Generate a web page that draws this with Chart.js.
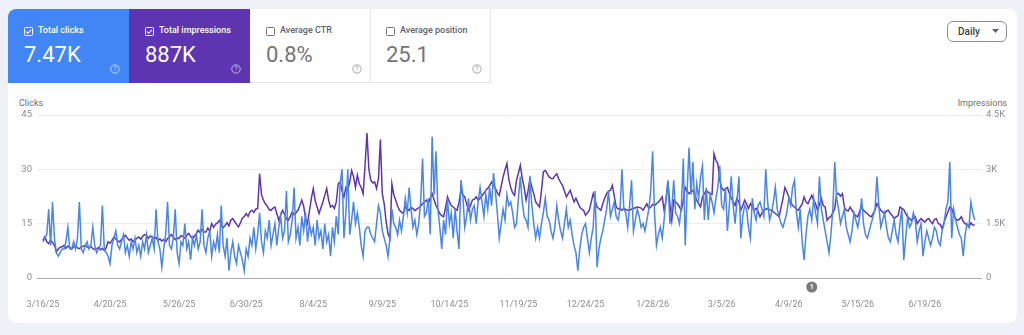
<!DOCTYPE html>
<html>
<head>
<meta charset="utf-8">
<script src="https://cdn.jsdelivr.net/npm/chart.js@4.4.1/dist/chart.umd.min.js"></script>
<style>
  html, body { margin: 0; padding: 0; }
  body { width: 1024px; height: 335px; background: #eef1f8; font-family: Roboto, Arial, sans-serif; position: relative; overflow: hidden; }
  .card { position: absolute; left: 8px; top: 9px; width: 1009px; height: 314px; background: #fff; border-radius: 8px; overflow: hidden; }
  .tile { position: absolute; top: 0; width: 121px; height: 74px; box-sizing: border-box; }
  .tile.off { border-right: 1px solid #e3e3e3; border-bottom: 1px solid #e3e3e3; }
  .tile svg { position: absolute; }
  .tile .cb { left: 16px; top: 18px; }
  .tile .help { left: 102px; top: 55px; }
  .tile .name { position: absolute; left: 30px; top: 16px; font-size: 9px; line-height: 11px; font-weight: 500; white-space: nowrap; }
  .tile .val { position: absolute; left: 16px; top: 33px; font-size: 22px; line-height: 26px; }
  .blue { background: #4285f4; color: #fff; }
  .purple { background: #5e35b1; color: #fff; }
  .off .name { color: #5f6368; }
  .off .val { color: #757575; }
  .daily { position: absolute; left: 939px; top: 12px; width: 60px; height: 21px; box-sizing: border-box; border: 1px solid #8a8d91; border-radius: 6px; }
  .daily span { position: absolute; left: 10px; top: 4px; font-size: 10px; line-height: 12px; font-weight: 500; color: #3c4043; }
  .daily svg { position: absolute; left: 44px; top: 7px; }
  .axis-title { position: absolute; top: 98px; font-size: 9px; line-height: 11px; color: #6b6f74; }
  #chart { position: absolute; left: 0; top: 95px; }
</style>
</head>
<body>
<div class="card">
  <div class="tile blue" style="left:0">
    <svg class="cb" width="9" height="9" viewBox="0 0 9 9"><rect x="0.5" y="0.5" width="8" height="8" rx="1" fill="none" stroke="#fff"/><path d="M2 4.6 L3.8 6.3 L7 2.8" fill="none" stroke="#fff" stroke-width="1.1"/></svg>
    <div class="name">Total clicks</div>
    <div class="val">7.47K</div>
    <svg class="help" width="10" height="10" viewBox="0 0 10 10"><circle cx="5" cy="5" r="4.2" fill="none" stroke="rgba(255,255,255,0.7)" stroke-width="0.9"/><text x="5" y="7.3" font-size="6.5" font-family="Roboto" text-anchor="middle" fill="rgba(255,255,255,0.7)">?</text></svg>
  </div>
  <div class="tile purple" style="left:121px">
    <svg class="cb" width="9" height="9" viewBox="0 0 9 9"><rect x="0.5" y="0.5" width="8" height="8" rx="1" fill="none" stroke="#fff"/><path d="M2 4.6 L3.8 6.3 L7 2.8" fill="none" stroke="#fff" stroke-width="1.1"/></svg>
    <div class="name">Total impressions</div>
    <div class="val">887K</div>
    <svg class="help" width="10" height="10" viewBox="0 0 10 10"><circle cx="5" cy="5" r="4.2" fill="none" stroke="rgba(255,255,255,0.7)" stroke-width="0.9"/><text x="5" y="7.3" font-size="6.5" font-family="Roboto" text-anchor="middle" fill="rgba(255,255,255,0.7)">?</text></svg>
  </div>
  <div class="tile off" style="left:242px">
    <svg class="cb" width="9" height="9" viewBox="0 0 9 9"><rect x="0.5" y="0.5" width="8" height="8" rx="1" fill="none" stroke="#757575"/></svg>
    <div class="name">Average CTR</div>
    <div class="val">0.8%</div>
    <svg class="help" width="10" height="10" viewBox="0 0 10 10"><circle cx="5" cy="5" r="4.2" fill="none" stroke="#9e9e9e" stroke-width="0.9"/><text x="5" y="7.3" font-size="6.5" font-family="Roboto" text-anchor="middle" fill="#9e9e9e">?</text></svg>
  </div>
  <div class="tile off" style="left:362px">
    <svg class="cb" width="9" height="9" viewBox="0 0 9 9"><rect x="0.5" y="0.5" width="8" height="8" rx="1" fill="none" stroke="#757575"/></svg>
    <div class="name">Average position</div>
    <div class="val">25.1</div>
    <svg class="help" width="10" height="10" viewBox="0 0 10 10"><circle cx="5" cy="5" r="4.2" fill="none" stroke="#9e9e9e" stroke-width="0.9"/><text x="5" y="7.3" font-size="6.5" font-family="Roboto" text-anchor="middle" fill="#9e9e9e">?</text></svg>
  </div>
  <div class="daily"><span>Daily</span><svg width="7" height="4" viewBox="0 0 7 4"><path d="M0 0 L7 0 L3.5 4 Z" fill="#5f6368"/></svg></div>
</div>
<div class="axis-title" style="left:19px">Clicks</div>
<div class="axis-title" style="right:17px">Impressions</div>
<canvas id="chart" width="1024" height="230"></canvas>

<script>
// ===== Data (daily, 3/16/25 -> 7/15/26) =====
const START_DATE = [2025, 3, 16];

const clicks = [
  10, 11, 12, 19, 9, 21, 11, 7, 6, 7,
  8, 8, 10, 14, 8, 8, 10, 8, 11, 21,
  8, 7, 9, 10, 8, 9, 14, 9, 7, 8,
  9, 20, 8, 7, 6, 4, 9, 11, 13, 9,
  8, 10, 12, 7, 9, 6, 10, 8, 11, 7,
  9, 6, 10, 8, 12, 7, 9, 11, 8, 19,
  10, 8, 3, 8, 12, 21, 9, 8, 11, 19,
  7, 4, 10, 9, 15, 8, 10, 5, 11, 9,
  12, 8, 10, 19, 9, 7, 11, 13, 6, 10,
  8, 12, 7, 20, 9, 6, 11, 2, 7, 10,
  6, 4, 9, 7, 5, 2, 8, 6, 11, 9,
  14, 8, 12, 18, 10, 7, 13, 11, 16, 9,
  12, 15, 9, 14, 17, 11, 13, 24, 10, 12,
  16, 25, 11, 14, 9, 17, 13, 18, 10, 15,
  12, 14, 9, 16, 11, 13, 8, 15, 10, 12,
  6, 14, 10, 17, 12, 26, 30, 11, 18, 30,
  12, 16, 21, 15, 18, 14, 9, 6, 13, 14,
  14, 12, 11, 10, 15, 20, 18, 13, 11, 9,
  6, 11, 19, 15, 14, 12, 16, 13, 17, 22,
  18, 25, 19, 14, 16, 12, 15, 21, 33, 17,
  18, 22, 12, 39, 23, 35, 19, 14, 8, 16,
  12, 22, 15, 18, 11, 19, 13, 8, 27, 23,
  14, 17, 22, 16, 19, 20, 15, 21, 25, 21,
  17, 23, 19, 25, 20, 29, 24, 18, 11, 15,
  19, 16, 23, 20, 21, 18, 14, 15, 22, 28,
  21, 17, 16, 14, 28, 20, 15, 11, 14, 11,
  15, 18, 22, 17, 16, 13, 11, 14, 20, 16,
  13, 11, 15, 19, 14, 16, 12, 9, 7, 2,
  8, 12, 14, 15, 11, 7, 11, 14, 24, 3,
  8, 11, 13, 16, 19, 24, 17, 19, 21, 17,
  16, 19, 30, 19, 18, 14, 20, 27, 13, 16,
  19, 17, 14, 15, 13, 16, 19, 24, 35, 18,
  9, 12, 14, 11, 16, 22, 27, 15, 19, 27,
  18, 17, 15, 20, 33, 9, 24, 36, 23, 32,
  19, 26, 22, 28, 31, 16, 25, 16, 23, 21,
  18, 22, 25, 31, 20, 19, 25, 13, 20, 28,
  20, 15, 21, 28, 11, 17, 20, 19, 14, 11,
  22, 18, 16, 20, 21, 19, 17, 30, 21, 16,
  18, 21, 25, 19, 17, 15, 14, 16, 18, 22,
  20, 25, 27, 18, 14, 19, 10, 5, 12, 17,
  19, 16, 22, 18, 15, 28, 19, 16, 13, 10,
  7, 12, 19, 32, 22, 19, 15, 17, 19, 14,
  12, 10, 13, 18, 16, 14, 17, 22, 15, 12,
  11, 13, 15, 17, 19, 28, 20, 14, 16, 18,
  14, 11, 10, 13, 16, 12, 10, 15, 19, 5,
  11, 17, 14, 15, 18, 16, 10, 13, 15, 6,
  10, 13, 11, 9, 11, 14, 13, 10, 9, 13,
  15, 19, 21, 32, 11, 19, 16, 14, 12, 11,
  6, 12, 15, 14, 21, 18, 16
];

const impressions = [
  1040, 1140, 1000, 950, 1050, 980, 900, 720, 800, 850,
  860, 900, 820, 880, 840, 800, 860, 890, 830, 810,
  850, 880, 900, 860, 830, 870, 810, 790, 810, 840,
  780, 820, 760, 840, 1000, 960, 1040, 1130, 1080, 1020,
  1000, 1060, 1120, 1180, 1100, 1040, 1080, 1000, 1050, 1100,
  1130, 1070, 1150, 1200, 1180, 1100, 1160, 1130, 1090, 1120,
  1040, 1080, 1020, 1060, 1000, 1090, 1140, 1200, 1130, 1060,
  1100, 1090, 1170, 1140, 1100, 1180, 1230, 1150, 1090, 1160,
  1220, 1320, 1250, 1340, 1270, 1270, 1380, 1290, 1500, 1400,
  1480, 1520, 1590, 1460, 1390, 1450, 1530, 1440, 1600, 1640,
  1560, 1480, 1410, 1520, 1650, 1700, 1780, 1700, 1830, 1870,
  1810, 1900, 1920, 2880, 2300, 2150, 2050, 1980, 1890, 1870,
  1930, 1960, 1780, 1590, 1740, 1870, 1760, 1620, 1590, 1700,
  1820, 1750, 1800, 1870, 2000, 2150, 1980, 1640, 1500, 1850,
  2200, 2470, 2130, 1960, 1780, 1940, 2100, 2280, 2470, 2150,
  1960, 2000, 1920, 2100, 2600, 2650, 2400, 2240, 2500, 2430,
  2650, 2970, 2800, 2500, 2840, 2600, 2500, 2330, 3100, 4000,
  3000, 2700, 2630, 2650, 2470, 2740, 3820, 2330, 2050, 1550,
  1220, 1090, 2600, 2300, 2150, 1980, 1870, 1820, 1780, 1960,
  1920, 1870, 1940, 1920, 1860, 1900, 1940, 1980, 2050, 2100,
  2150, 2050, 2200, 2330, 2160, 2000, 1890, 1780, 1720, 1690,
  1950, 2240, 2100, 2000, 1960, 1910, 1870, 2080, 2420, 2300,
  2240, 2040, 1870, 2000, 2150, 2180, 2240, 2140, 2200, 2260,
  2340, 2420, 2480, 2550, 2650, 2550, 2470, 2350, 2280, 2530,
  2790, 2980, 3160, 2720, 2500, 2350, 2280, 2700, 2900, 3110,
  2750, 2500, 2150, 2400, 2740, 2510, 2330, 2100, 2030, 1960,
  2400, 2930, 2970, 2880, 2790, 2750, 2740, 2820, 2880, 2740,
  2640, 2560, 2400, 2240, 2330, 2420, 2260, 2100, 2200, 2080,
  1960, 1900, 1870, 1730, 1800, 1870, 2100, 2330, 2150, 1960,
  1920, 1870, 2050, 2200, 2330, 2400, 2420, 2560, 2260, 1960,
  1900, 1920, 1870, 1920, 1890, 1870, 1870, 1900, 1920, 1940,
  1960, 1950, 1930, 1870, 1960, 2050, 1920, 1960, 2030, 2000,
  2050, 2100, 2160, 2240, 1870, 2150, 2650, 2050, 1590, 2150,
  2100, 2050, 1960, 1870, 2150, 2500, 2400, 2330, 2380, 2420,
  2280, 2150, 2050, 1960, 2240, 2320, 2420, 2360, 2330, 2310,
  3430, 3250, 3160, 2700, 2500, 2420, 2460, 2500, 2340, 2200,
  2100, 2000, 2200, 2100, 1870, 2000, 2150, 2040, 1920, 2050,
  1960, 1870, 1920, 1840, 1690, 1800, 1870, 1900, 1920, 1880,
  1870, 1830, 1780, 1740, 1690, 1950, 2200, 2500, 2380, 2240,
  2100, 2000, 1960, 1900, 1870, 1960, 2040, 2240, 2100, 2050,
  2170, 2280, 2150, 2050, 1870, 2030, 2200, 2000, 1960, 1590,
  1660, 1700, 1800, 1920, 2330, 2330, 2260, 2330, 1960, 1870,
  1850, 1960, 1870, 1780, 1720, 1690, 1850, 1960, 1870, 1820,
  1780, 1720, 1690, 1780, 1870, 2050, 1960, 1870, 1820, 1780,
  1850, 1870, 1780, 1720, 1640, 1690, 1720, 1960, 1920, 1890,
  1780, 1690, 1640, 1590, 1640, 1690, 1500, 1580, 1640, 1590,
  1540, 1610, 1640, 1560, 1500, 1620, 1640, 1500, 1480, 1360,
  1530, 1690, 1820, 1960, 1920, 1750, 1640, 1590, 1620, 1690,
  1560, 1500, 1470, 1410, 1520, 1460, 1460
];

const tickDates = ["3/16/25", "4/20/25", "5/26/25", "6/30/25", "8/4/25", "9/9/25", "10/14/25",
  "11/19/25", "12/24/25", "1/28/26", "3/5/26", "4/9/26", "5/15/26", "6/19/26"];
const annotations = [{ date: "4/21/26", label: "1" }];

// date labels for every day of the series
const dates = [];
for (let i = 0; i < clicks.length; i++) {
  const d = new Date(START_DATE[0], START_DATE[1] - 1, START_DATE[2] + i);
  dates.push(`${d.getMonth() + 1}/${d.getDate()}/${String(d.getFullYear()).slice(2)}`);
}
const tickIdx = tickDates.map(t => dates.indexOf(t)).filter(i => i >= 0);

Chart.defaults.font.family = "Roboto";

// grey numbered marker under the axis
const markerPlugin = {
  id: "markers",
  afterDatasetsDraw(chart) {
    const { ctx, chartArea, scales } = chart;
    annotations.forEach(a => {
      const i = dates.indexOf(a.date);
      if (i < 0) return;
      const x = scales.x.getPixelForValue(i);
      const y = chartArea.bottom + 9;
      ctx.save();
      ctx.beginPath();
      ctx.arc(x, y, 5.5, 0, Math.PI * 2);
      ctx.fillStyle = "#7a7a7a";
      ctx.fill();
      ctx.fillStyle = "#fff";
      ctx.font = "bold 7px Roboto";
      ctx.textAlign = "center";
      ctx.textBaseline = "middle";
      ctx.fillText(a.label, x, y + 0.5);
      ctx.restore();
    });
  }
};

const tickFont = { family: "Roboto", size: 9.5 };

new Chart(document.getElementById("chart").getContext("2d"), {
  type: "line",
  data: {
    datasets: [
      {
        label: "Clicks",
        data: clicks.map((v, i) => ({ x: i, y: v })),
        yAxisID: "y",
        borderColor: "#4a86e2",
        borderWidth: 1.5,
        pointRadius: 0,
        tension: 0
      },
      {
        label: "Impressions",
        data: impressions.map((v, i) => ({ x: i, y: v })),
        yAxisID: "y1",
        borderColor: "#5e35b1",
        borderWidth: 1.5,
        pointRadius: 0,
        tension: 0
      }
    ]
  },
  options: {
    responsive: false,
    animation: false,
    layout: { padding: { top: 20, left: 0, right: 0, bottom: 0 } },
    plugins: { legend: { display: false }, tooltip: { enabled: false } },
    scales: {
      x: {
        type: "linear",
        min: -3.1,
        max: 489.8,
        grid: { display: false, drawTicks: false },
        border: { display: false },
        afterBuildTicks: s => { s.ticks = tickIdx.map(v => ({ value: v })); },
        afterFit: s => { s.height = 47; },
        ticks: {
          autoSkip: false, maxRotation: 0, padding: 21,
          color: "#8a8e93", font: { family: "Roboto", size: 9 },
          callback: v => dates[v]
        }
      },
      y: {
        position: "left",
        min: 0, max: 45,
        afterFit: s => { s.width = 37; },
        grid: { drawTicks: false, color: c => c.tick.value === 0 ? "#a9acb0" : "#ececec" },
        border: { display: false },
        ticks: { stepSize: 15, padding: 5, color: "#8a8e93", font: tickFont }
      },
      y1: {
        position: "right",
        min: 0, max: 4500,
        afterFit: s => { s.width = 42; },
        grid: { display: false, drawTicks: false },
        border: { display: false },
        ticks: {
          stepSize: 1500, padding: 4, color: "#8a8e93", font: tickFont,
          callback: v => v === 0 ? "0" : (v / 1000) + "K"
        }
      }
    }
  },
  plugins: [markerPlugin]
});
</script>
</body>
</html>
